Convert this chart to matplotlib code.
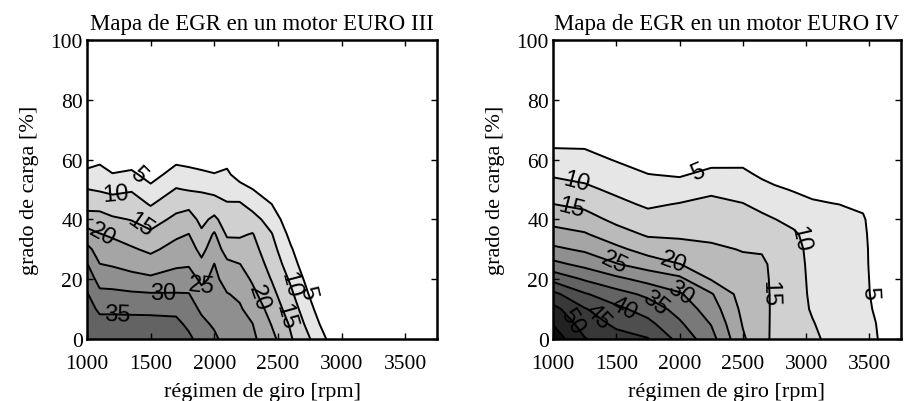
import numpy as np
import matplotlib.pyplot as plt

plt.rcParams['font.family'] = ['Liberation Serif', 'DejaVu Serif']

# grado de carga [%] (filas de la malla)
carga = [0, 5, 10, 15, 20, 25, 30, 35, 40, 45, 50, 55, 60, 65, 70]

# EURO III: tasa de EGR [%] para cada regimen, de carga 0 a 70 %
rpm_e3 = [1000, 1100, 1200, 1350, 1500, 1700, 1800, 1900, 2000,
          2100, 2200, 2300, 2450, 2600, 2750, 2900, 3750]
egr_e3 = [
    [39.0, 37.8, 36.6, 35.4, 33.1, 30.3, 26.5, 22.0, 17.3, 13.3, 10.1, 6.4, 2.9, 0, 0],
    [38.0, 36.3, 34.3, 31.2, 28.1, 25.1, 22.6, 20.2, 17.0, 13.3, 9.5, 6.8, 4.1, 1.5, 0],
    [38.0, 36.3, 34.3, 31.1, 27.8, 24.5, 22.0, 19.3, 15.7, 12.3, 8.8, 5.3, 1.9, 0, 0],
    [38.0, 36.3, 34.2, 30.7, 26.7, 23.3, 20.6, 17.6, 14.8, 12.2, 9.6, 6.1, 2.5, 0, 0],
    [38.0, 36.3, 34.1, 30.4, 25.9, 22.3, 19.0, 16.0, 12.8, 9.7, 6.3, 3.0, 0, 0, 0],
    [38.0, 36.2, 33.8, 30.3, 27.2, 24.2, 21.8, 19.1, 16.2, 13.2, 10.3, 7.1, 3.9, 0.7, 0],
    [36.0, 34.0, 32.1, 30.2, 27.4, 24.5, 22.3, 20.1, 17.1, 13.8, 9.7, 6.6, 3.4, 0.3, 0],
    [33.0, 31.2, 29.2, 26.6, 23.9, 21.2, 18.5, 15.9, 13.7, 11.7, 9.6, 6.1, 2.5, 0, 0],
    [31.0, 29.3, 28.3, 27.2, 26.1, 25.1, 22.8, 20.7, 16.1, 12.1, 8.7, 5.3, 2.0, 0, 0],
    [28.0, 27.1, 26.1, 25.2, 23.3, 21.1, 17.8, 14.3, 12.4, 10.4, 8.2, 5.9, 3.6, 1.4, 0],
    [27.0, 26.3, 25.5, 24.3, 22.2, 20.1, 17.0, 14.4, 12.5, 10.6, 7.1, 2.9, 0, 0, 0],
    [26.0, 25.1, 23.3, 21.2, 19.4, 18.1, 16.7, 15.3, 11.9, 8.3, 5.1, 1.7, 0, 0, 0],
    [21.5, 19.8, 18.1, 16.5, 14.8, 13.3, 11.8, 10.3, 7.8, 5.1, 2.2, 0, 0, 0, 0],
    [15.5, 14.4, 12.7, 11.0, 9.3, 7.4, 5.6, 3.7, 1.9, 0, 0, 0, 0, 0, 0],
    [10.2, 8.2, 6.4, 4.6, 2.9, 1.1, 0, 0, 0, 0, 0, 0, 0, 0, 0],
    [4.2, 2.0, 0, 0, 0, 0, 0, 0, 0, 0, 0, 0, 0, 0, 0],
    [0, 0, 0, 0, 0, 0, 0, 0, 0, 0, 0, 0, 0, 0, 0],
]

# EURO IV
rpm_e4 = [1000, 1250, 1500, 1750, 2000, 2250, 2500, 2650, 2750,
          2900, 3050, 3200, 3450, 3550, 3650, 3750]
egr_e4 = [
    [58.0, 54.8, 51.6, 46.4, 38.6, 31.4, 26.0, 21.9, 18.3, 15.1, 12.2, 9.5, 7.0, 4.4, 1.9],
    [50.3, 47.9, 45.4, 40.5, 34.5, 28.6, 24.2, 20.5, 17.0, 13.9, 11.0, 8.6, 6.5, 4.4, 2.3],
    [46.9, 44.0, 41.2, 37.0, 31.2, 25.3, 21.2, 17.1, 13.8, 11.3, 9.0, 6.9, 4.7, 2.6, 0.5],
    [45.3, 41.4, 37.9, 33.9, 28.4, 22.7, 18.0, 14.4, 11.8, 9.3, 7.2, 5.1, 3.0, 0.9, 0],
    [38.4, 35.8, 33.2, 30.6, 26.2, 20.1, 16.9, 14.2, 12.2, 10.3, 7.4, 4.5, 1.5, 0, 0],
    [31.9, 29.8, 27.6, 25.5, 19.7, 17.7, 15.7, 14.1, 12.6, 11.1, 9.2, 6.3, 3.4, 0.5, 0],
    [20.7, 19.7, 18.8, 17.8, 16.8, 15.9, 14.8, 13.3, 11.8, 10.2, 8.2, 6.0, 3.8, 1.6, 0],
    [16.5, 16.3, 16.2, 16.1, 16.0, 15.8, 14.6, 12.7, 10.9, 8.9, 6.6, 4.3, 2.1, 0, 0],
    [14.0, 14.2, 14.3, 14.3, 14.2, 14.0, 12.8, 11.4, 10.1, 8.0, 5.7, 3.4, 1.1, 0, 0],
    [11.8, 11.6, 11.4, 11.3, 11.2, 11.1, 11.0, 10.6, 8.9, 6.8, 4.7, 2.5, 0.4, 0, 0],
    [10.8, 10.2, 9.7, 9.5, 9.4, 9.3, 9.1, 8.5, 7.2, 5.8, 3.5, 1.0, 0, 0, 0],
    [9.0, 8.8, 8.6, 8.4, 8.1, 7.8, 7.5, 7.0, 6.3, 5.2, 3.0, 0.7, 0, 0, 0],
    [7.0, 6.8, 6.6, 6.4, 6.2, 6.0, 5.9, 5.7, 5.4, 4.4, 2.0, 0, 0, 0, 0],
    [5.4, 5.1, 4.4, 3.8, 3.7, 3.6, 3.6, 3.5, 3.3, 2.0, 0.5, 0, 0, 0, 0],
    [3.0, 2.0, 1.0, 0, 0, 0, 0, 0, 0, 0, 0, 0, 0, 0, 0],
    [0, 0, 0, 0, 0, 0, 0, 0, 0, 0, 0, 0, 0, 0, 0],
]

niveles_e3 = [5, 10, 15, 20, 25, 30, 35, 40]
niveles_e4 = [5, 10, 15, 20, 25, 30, 35, 40, 45, 50, 55, 60]

# donde van las etiquetas de las isolineas
etiq_e3 = [(1417, 55.7), (1236, 47.4), (1441, 39), (1126, 35.6), (1886, 17.6),
           (1600, 15.6), (1236, 8), (2343, 13.9), (2539, 7.5), (2571, 18.2),
           (2736, 15.9)]
etiq_e4 = [(2153, 55.6), (1183, 52.2), (1144, 44.2), (1480, 25.5), (1946, 25.2),
           (2017, 16), (1827, 13), (1570, 11), (1380, 8.2), (1131, 5.5),
           (2680, 15.5), (3028, 34), (3503, 15.5)]

grises = plt.cm.gray(np.linspace(0.90, 0.05, 11))

fig = plt.figure(figsize=(9.06, 4.02), dpi=100)
ax1 = fig.add_axes([87/906, 62/402, 350/906, 299/402])
ax2 = fig.add_axes([553/906, 62/402, 348/906, 299/402])

paneles = [
    (ax1, rpm_e3, egr_e3, niveles_e3, etiq_e3, 'Mapa de EGR en un motor EURO III'),
    (ax2, rpm_e4, egr_e4, niveles_e4, etiq_e4, 'Mapa de EGR en un motor EURO IV'),
]

for ax, rpm, egr, lv, etiq, titulo in paneles:
    X, Y = np.meshgrid(rpm, carga)
    Z = np.array(egr).T
    ax.contourf(X, Y, Z, levels=lv, colors=grises[:len(lv) - 1])
    cs = ax.contour(X, Y, Z, levels=lv, colors='k', linewidths=1.4)
    txt = ax.clabel(cs, inline=False, fmt='%d', manual=etiq)
    for t in txt:
        t.set_fontfamily('Liberation Sans')
        t.set_fontsize(17)
    ax.set_xlim(1000, 3750)
    ax.set_ylim(0, 100)
    ax.set_xticks([1000, 1500, 2000, 2500, 3000, 3500])
    ax.set_yticks([0, 20, 40, 60, 80, 100])
    ax.tick_params(direction='in', top=True, right=True, length=4, width=1,
                   labelsize=15.5)
    ax.tick_params(axis='x', pad=11)
    ax.tick_params(axis='y', pad=3)
    for s in ax.spines.values():
        s.set_linewidth(1.8)
    ax.set_title(titulo, fontsize=16.5, pad=8)
    ax.set_xlabel('régimen de giro [rpm]', fontsize=16, labelpad=6)
    ax.set_ylabel('grado de carga [%]', fontsize=16, labelpad=8)

plt.savefig('out.png', dpi=100)
